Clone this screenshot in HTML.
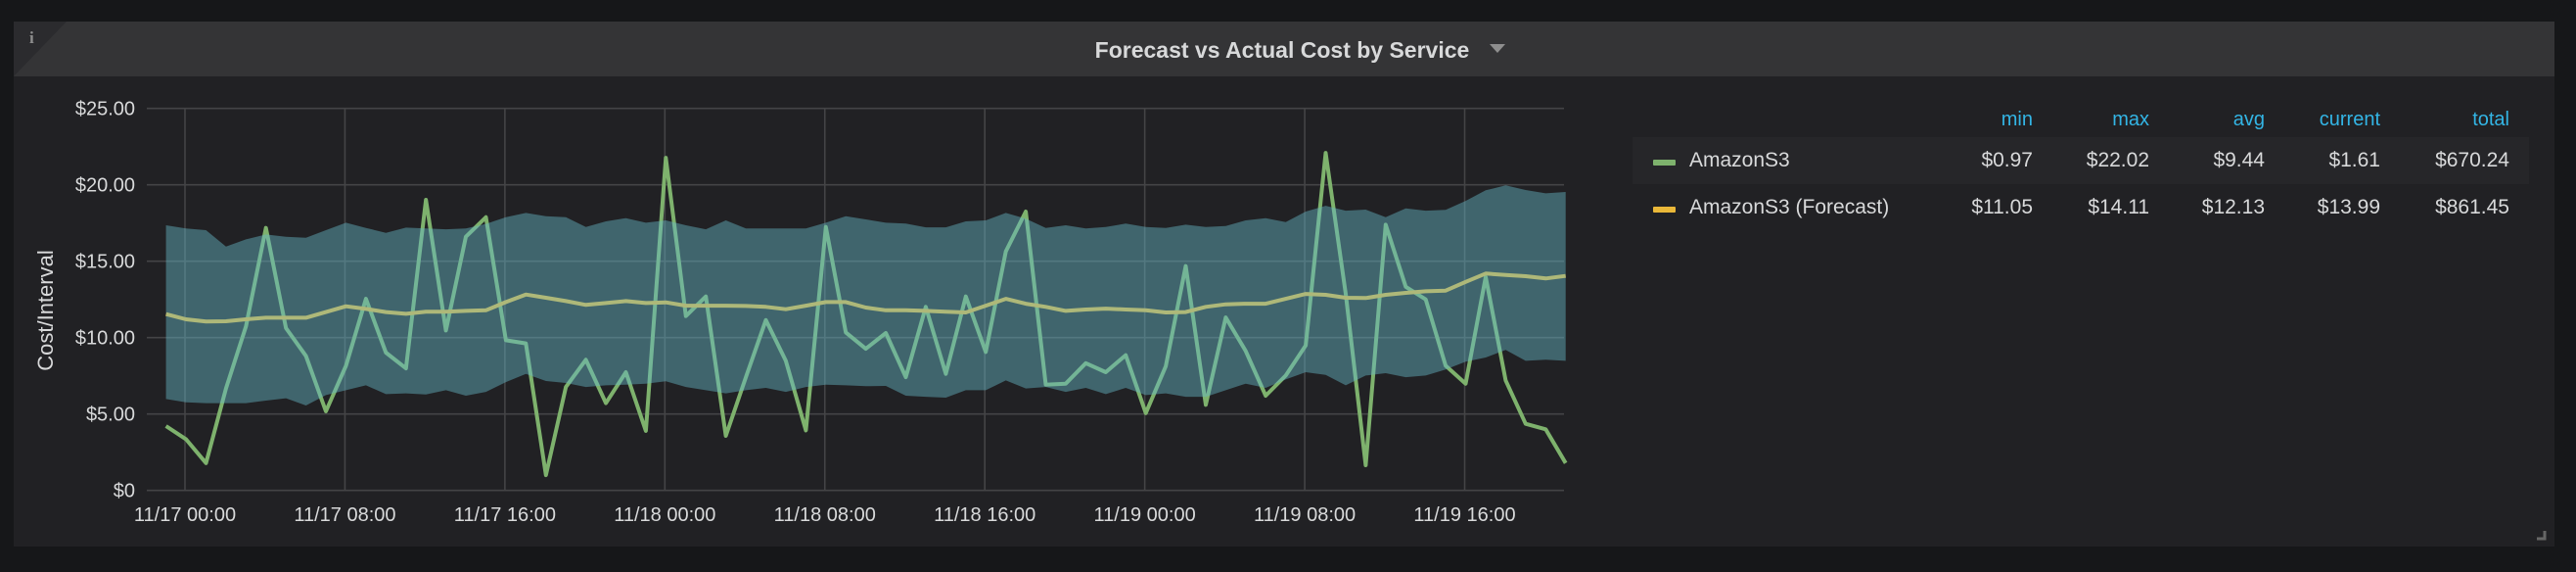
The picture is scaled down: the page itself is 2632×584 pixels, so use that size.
<!DOCTYPE html>
<html><head><meta charset="utf-8">
<style>
html,body{margin:0;padding:0;background:#161719;width:2632px;height:584px;overflow:hidden;font-family:"Liberation Sans",sans-serif;}
</style></head>
<body>
<svg id="chart" width="2632" height="584" viewBox="0 0 2632 584" xmlns="http://www.w3.org/2000/svg">
  <rect x="14" y="22" width="2596" height="536" fill="#212124"/>
  <rect x="14" y="22" width="2596" height="56" fill="#343436"/>
  <polygon points="14,22 68,22 14,78" fill="#2b2b2e"/>
  <text x="30" y="44" fill="#8e8e8e" font-size="17" font-weight="bold" font-family="Liberation Serif, serif">i</text>
  <text x="1310" y="59" fill="#d8d9da" font-size="23" font-weight="bold" text-anchor="middle">Forecast vs Actual Cost by Service</text>
  <polygon points="1522,45 1538,45 1530,54" fill="#8e8e8e"/>
  <g id="grid"></g>
  <g id="series"></g>
  <text transform="translate(54,317) rotate(-90)" fill="#d8d9da" font-size="22" text-anchor="middle">Cost/Interval</text>
  <g id="legend"></g>
  <path d="M2600,542 L2600,550 L2592,550" stroke="#666" stroke-width="3" fill="none"/>
</svg>
<script>
const yTicks = [0, 5, 10, 15, 20, 25];
const yTickLabels = ["$0", "$5.00", "$10.00", "$15.00", "$20.00", "$25.00"];
const xTickHours = [0, 8, 16, 24, 32, 40, 48, 56, 64];
const xTickLabels = ["11/17 00:00","11/17 08:00","11/17 16:00","11/18 00:00","11/18 08:00","11/18 16:00","11/19 00:00","11/19 08:00","11/19 16:00"];
const startHour = -0.95;
const actual = [4.21,3.35,1.79,6.67,10.73,17.18,10.62,8.80,5.17,8.16,12.54,9.02,7.99,19.02,10.47,16.60,17.88,9.83,
  9.62,1.0,6.77,8.55,5.71,7.74,3.89,21.77,11.41,12.69,3.57,7.41,11.15,8.48,3.93,17.24,10.34,9.27,
  10.3,7.41,12.01,7.63,12.69,9.06,15.64,18.25,6.92,6.99,8.33,7.74,8.85,5.06,8.12,14.68,5.6,
  11.32,9.12,6.2,7.52,9.49,22.09,12.86,1.65,17.39,13.33,12.5,8.16,6.99,13.97,7.2,4.36,4.0,1.79];
const forecast = [11.54,11.2,11.05,11.07,11.2,11.3,11.3,11.3,11.67,12.05,11.88,11.67,11.56,11.69,11.7,11.75,11.79,12.33,
  12.82,12.61,12.39,12.14,12.26,12.39,12.26,12.31,12.09,12.09,12.09,12.07,12.01,11.86,12.09,12.33,12.33,11.97,
  11.79,11.79,11.75,11.69,11.65,12.09,12.54,12.22,12.01,11.75,11.84,11.9,11.84,11.79,11.65,11.67,12.01,
  12.18,12.22,12.22,12.54,12.86,12.8,12.61,12.59,12.8,12.93,13.03,13.08,13.65,14.19,14.1,14.02,13.87,14.04];
const upper = [17.35,17.14,17.03,15.96,16.43,16.75,16.6,16.54,17.03,17.52,17.18,16.86,17.2,17.14,17.09,17.14,17.44,17.88,
  18.16,17.95,17.88,17.24,17.61,17.82,17.52,17.67,17.35,17.09,17.67,17.14,17.14,17.14,17.14,17.52,17.95,17.74,
  17.52,17.46,17.22,17.22,17.61,17.67,18.16,17.78,17.18,17.35,17.14,17.24,17.46,17.24,17.18,17.39,17.24,
  17.31,17.67,17.82,17.56,18.25,18.63,18.31,18.38,17.88,18.46,18.31,18.36,18.95,19.64,19.96,19.66,19.44,19.53];
const lower = [5.98,5.77,5.71,5.71,5.71,5.88,6.03,5.56,6.24,6.56,6.88,6.30,6.35,6.28,6.56,6.2,6.45,7.09,
  7.63,7.16,7.03,6.77,6.88,6.92,6.99,7.14,6.77,6.56,6.35,6.56,6.71,6.45,6.77,6.92,6.88,6.82,
  6.84,6.2,6.13,6.07,6.56,6.56,7.2,6.67,6.77,6.45,6.71,6.30,6.71,6.24,6.35,6.13,6.13,
  6.56,6.99,6.71,7.26,7.74,7.56,6.88,7.52,7.67,7.41,7.52,7.91,8.42,8.7,9.19,8.48,8.55,8.48];
const legendHeaders = ["min","max","avg","current","total"];
const legendNames = ["AmazonS3","AmazonS3 (Forecast)"];
const legendStatsActual = ["$0.97","$22.02","$9.44","$1.61","$670.24"];
const legendStatsForecast = ["$11.05","$14.11","$12.13","$13.99","$861.45"];

const NS = "http://www.w3.org/2000/svg";
const PL = 150, PR = 1598, PT = 110.7, PB = 500.7;
const yScale = v => PB - (v / 25) * (PB - PT);
const xScale = h => 189 + h * 20.43;
const xIdx = i => xScale(startHour + i);
function mk(tag, attrs, parent) {
  const e = document.createElementNS(NS, tag);
  for (const k in attrs) e.setAttribute(k, attrs[k]);
  parent.appendChild(e);
  return e;
}
const grid = document.getElementById("grid");
yTicks.forEach((v, i) => {
  const l = mk("line", {x1: PL, x2: PR, y1: yScale(v), y2: yScale(v), stroke: "#444446", "stroke-width": 1.6}, grid);
  
  
  const t = mk("text", {x: 138, y: yScale(v) + 7, fill: "#d8d9da", "font-size": 20, "text-anchor": "end"}, grid);
  t.textContent = yTickLabels[i];
  
  
});
xTickHours.forEach((h, i) => {
  const l = mk("line", {x1: xScale(h), x2: xScale(h), y1: PT, y2: PB, stroke: "#444446", "stroke-width": 1.6}, grid);
  
  
  const t = mk("text", {x: xScale(h), y: 532, fill: "#d8d9da", "font-size": 20, "text-anchor": "middle"}, grid);
  t.textContent = xTickLabels[i];
  
  
});
const series = document.getElementById("series");
const pts = arr => arr.map((v, i) => xIdx(i).toFixed(1) + "," + yScale(v).toFixed(1)).join(" ");
const la = mk("polyline", {points: pts(actual), fill: "none", stroke: "#7eb26d", "stroke-width": 4, "stroke-linejoin": "round"}, series);


const lf = mk("polyline", {points: pts(forecast), fill: "none", stroke: "#eab839", "stroke-width": 4, "stroke-linejoin": "round"}, series);


let bandPts = upper.map((v, i) => xIdx(i).toFixed(1) + "," + yScale(v).toFixed(1));
for (let i = lower.length - 1; i >= 0; i--) bandPts.push(xIdx(i).toFixed(1) + "," + yScale(lower[i]).toFixed(1));
const band = mk("polygon", {points: bandPts.join(" "), fill: "rgb(102,184,200)", "fill-opacity": 0.45}, series);



const lg = document.getElementById("legend");
const colX = [2077, 2196, 2314, 2432, 2564];
legendHeaders.forEach((h, i) => {
  const t = mk("text", {x: colX[i], y: 128, fill: "#33b5e5", "font-size": 20, "text-anchor": "end"}, lg);
  t.textContent = h;
  
  
});
const rowBg = mk("rect", {x: 1668, y: 140, width: 916, height: 48, fill: "#262629"}, lg);


const rowY = [170, 218];
const rowColors = ["#7eb26d", "#eab839"];
const rowStats = [legendStatsActual, legendStatsForecast];
legendNames.forEach((n, r) => {
  const sw = mk("rect", {x: 1689, y: rowY[r] - 7, width: 23, height: 6, rx: 1, fill: rowColors[r]}, lg);
  
  
  const t = mk("text", {x: 1726, y: rowY[r], fill: "#d8d9da", "font-size": 21}, lg);
  t.textContent = n;
  
  
  rowStats[r].forEach((s, i) => {
    const v = mk("text", {x: colX[i], y: rowY[r], fill: "#d8d9da", "font-size": 21, "text-anchor": "end"}, lg);
    v.textContent = s;
    
    
  });
});
</script>
</body></html>
